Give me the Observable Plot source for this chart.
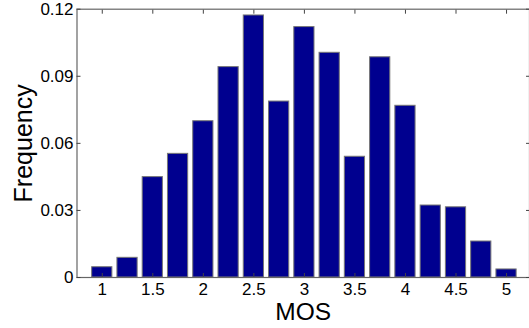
<!DOCTYPE html>
<html>
<head>
<meta charset="utf-8">
<script src="https://cdn.jsdelivr.net/npm/d3@7"></script>
<script src="https://cdn.jsdelivr.net/npm/@observablehq/plot@0.6"></script>
<style>
  html, body { margin: 0; padding: 0; background: #fff; }
  svg { display: block; }
</style>
</head>
<body>
<div id="chart"></div>
<script>
const mosValues = [1, 1.25, 1.5, 1.75, 2, 2.25, 2.5, 2.75, 3, 3.25, 3.5, 3.75, 4, 4.25, 4.5, 4.75, 5];
const frequencies = [0.0046, 0.0088, 0.0449, 0.0553, 0.0699, 0.0941, 0.1172, 0.0787, 0.1120, 0.1005, 0.0540, 0.0985, 0.0768, 0.0322, 0.0314, 0.0161, 0.0036];
const xTicks = [1, 1.5, 2, 2.5, 3, 3.5, 4, 4.5, 5];
const xTickLabels = ["1", "1.5", "2", "2.5", "3", "3.5", "4", "4.5", "5"];
const yTicks = [0, 0.03, 0.06, 0.09, 0.12];
const yTickLabels = ["0", "0.03", "0.06", "0.09", "0.12"];
const xLabel = "MOS";
const yLabel = "Frequency";

const data = mosValues.map((m, i) => ({mos: m, freq: frequencies[i]}));
const halfBar = 0.1;

const chart = Plot.plot({
  width: 529,
  height: 328,
  marginLeft: 76.5,
  marginRight: 0,
  marginTop: 8.7,
  marginBottom: 51,
  style: {fontFamily: "'Liberation Sans', Arial, sans-serif", fontSize: "17px", color: "#000", background: "#fff"},
  x: {domain: [0.75, 5.25], range: [76.5, 531.3]},
  y: {domain: [0, 0.12], range: [277, 8.7]},
  marks: [
    Plot.rectY(data, {
      x1: d => d.mos - halfBar,
      x2: d => d.mos + halfBar,
      y: "freq",
      fill: "#00008F",
      stroke: "#777",
      strokeWidth: 1
    }),
    Plot.frame({stroke: "#666", strokeWidth: 1.2}),
    Plot.axisX(xTicks, {
      anchor: "bottom", tickSize: -4, tickPadding: 9.5,
      tickFormat: (d, i) => xTickLabels[i], stroke: "#444",
      fontSize: 17, fill: "#000", label: null
    }),
    Plot.axisX(xTicks, {anchor: "top", tickSize: -4, tickFormat: () => "", stroke: "#444", label: null}),
    Plot.axisY(yTicks, {
      anchor: "left", tickSize: -4, tickPadding: 7.5,
      tickFormat: (d, i) => yTickLabels[i], stroke: "#444",
      fontSize: 17, fill: "#000", label: null
    }),
    Plot.axisY(yTicks, {anchor: "right", tickSize: -4, tickFormat: () => "", stroke: "#444", label: null}),
    Plot.text([xLabel], {
      text: d => d, frameAnchor: "bottom", textAnchor: "middle", lineAnchor: "middle",
      dy: 35, fontSize: 24.5, fill: "#000"
    }),
    Plot.text([yLabel], {
      text: d => d, frameAnchor: "left", textAnchor: "middle", lineAnchor: "middle",
      rotate: -90, dx: -53.5, fontSize: 25, fill: "#000"
    })
  ]
});
document.getElementById("chart").appendChild(chart);
</script>
</body>
</html>
